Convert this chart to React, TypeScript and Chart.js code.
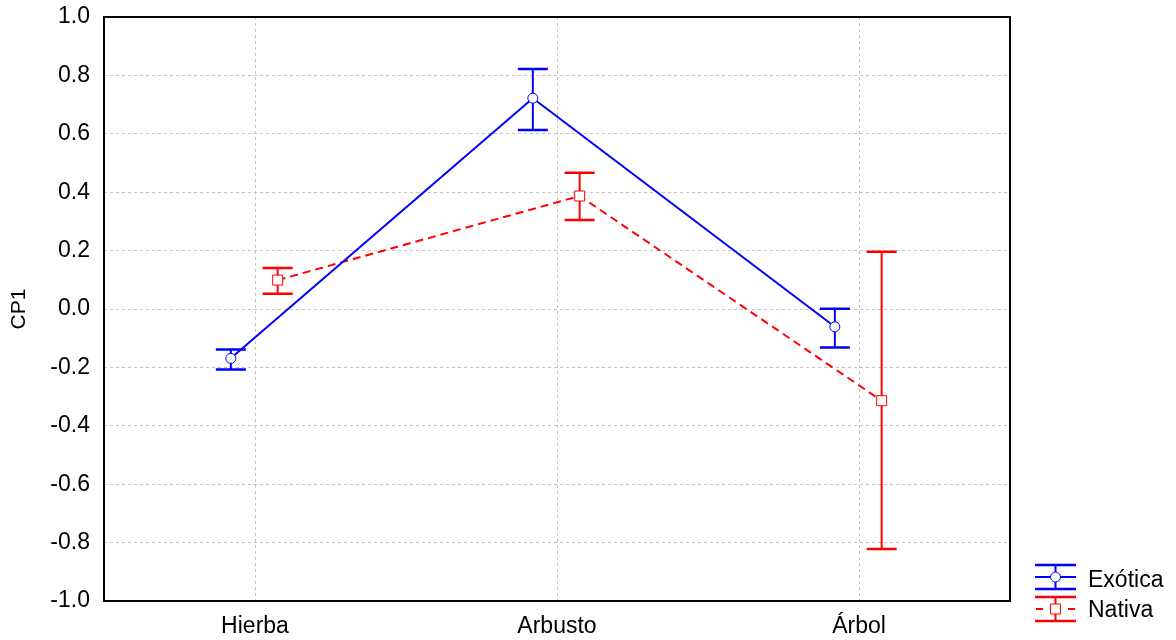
import React, { useEffect, useRef } from "react";
import { Chart, registerables } from "chart.js";

Chart.register(...registerables);

const categories = ["Hierba", "Arbusto", "Árbol"];
const seriesNames = ["Exótica", "Nativa"];
const exoticaMean = [-0.169, 0.722, -0.061];
const exoticaLow = [-0.207, 0.613, -0.132];
const exoticaHigh = [-0.139, 0.822, 0.001];
const nativaMean = [0.099, 0.387, -0.314];
const nativaLow = [0.052, 0.305, -0.822];
const nativaHigh = [0.14, 0.467, 0.196];
const yAxisTitle = "CP1";
const yMin = -1.0;
const yMax = 1.0;
const yStep = 0.2;

const FONT = '"Liberation Sans", Arial, Helvetica, sans-serif';
const BLUE = "#0000ff";
const RED = "#ff0000";
const DODGE_EX = -0.08;
const DODGE_NA = 0.075;

const framePlugin = {
  id: "frame",
  beforeDatasetsDraw(chart: any) {
    const { ctx, chartArea } = chart;
    ctx.save();
    ctx.strokeStyle = "#000";
    ctx.lineWidth = 2;
    ctx.strokeRect(chartArea.left, chartArea.top, chartArea.right - chartArea.left, chartArea.bottom - chartArea.top);
    ctx.restore();
  },
};

const errorBarPlugin = {
  id: "errorBars",
  beforeDatasetsDraw(chart: any) {
    const { ctx } = chart;
    const xs = chart.scales.x;
    const ys = chart.scales.y;
    chart.data.datasets.forEach((ds: any) => {
      ctx.save();
      ctx.strokeStyle = ds.borderColor;
      ctx.setLineDash([]);
      ds.data.forEach((p: any, i: number) => {
        const px = xs.getPixelForValue(p.x);
        const pTop = ys.getPixelForValue(ds.errHigh[i]);
        const pBot = ys.getPixelForValue(ds.errLow[i]);
        ctx.lineWidth = 2;
        ctx.beginPath();
        ctx.moveTo(px, pTop);
        ctx.lineTo(px, pBot);
        ctx.stroke();
        ctx.lineWidth = 2.5;
        ctx.beginPath();
        ctx.moveTo(px - 15, pTop);
        ctx.lineTo(px + 15, pTop);
        ctx.moveTo(px - 15, pBot);
        ctx.lineTo(px + 15, pBot);
        ctx.stroke();
      });
      ctx.restore();
    });
  },
};

const legendTitlePlugin = {
  id: "legendTitle",
  afterDraw(chart: any) {
    const { ctx, chartArea } = chart;
    ctx.save();
    ctx.fillStyle = "#000";
    ctx.font = `21px ${FONT}`;
    ctx.translate(19, (chartArea.top + chartArea.bottom) / 2);
    ctx.rotate(-Math.PI / 2);
    ctx.textAlign = "center";
    ctx.textBaseline = "middle";
    ctx.fillText(yAxisTitle, 0, 0);
    ctx.restore();

    const x0 = 1035;
    const x1 = 1076;
    const cx = 1055.5;
    const items = [
      { name: seriesNames[0], color: BLUE, mid: 577, dashed: false, marker: "circle", base: 587 },
      { name: seriesNames[1], color: RED, mid: 609, dashed: true, marker: "rect", base: 617 },
    ];
    items.forEach((it) => {
      ctx.save();
      ctx.strokeStyle = it.color;
      ctx.lineWidth = 2.5;
      ctx.beginPath();
      ctx.moveTo(x0, it.mid - 12);
      ctx.lineTo(x1, it.mid - 12);
      ctx.moveTo(x0, it.mid + 12);
      ctx.lineTo(x1, it.mid + 12);
      ctx.stroke();
      ctx.lineWidth = 2;
      ctx.beginPath();
      ctx.moveTo(cx, it.mid - 12);
      ctx.lineTo(cx, it.mid + 12);
      ctx.stroke();
      if (it.dashed) {
        ctx.beginPath();
        ctx.moveTo(x0 + 1, it.mid);
        ctx.lineTo(x0 + 8, it.mid);
        ctx.moveTo(x1 - 8, it.mid);
        ctx.lineTo(x1 - 1, it.mid);
        ctx.stroke();
      } else {
        ctx.beginPath();
        ctx.moveTo(x0, it.mid);
        ctx.lineTo(x1, it.mid);
        ctx.stroke();
      }
      ctx.fillStyle = "#fff";
      ctx.lineWidth = 1;
      ctx.beginPath();
      if (it.marker === "circle") {
        ctx.arc(cx, it.mid, 5, 0, Math.PI * 2);
      } else {
        ctx.rect(cx - 5, it.mid - 5, 10, 10);
      }
      ctx.fill();
      ctx.stroke();
      ctx.fillStyle = "#000";
      ctx.font = `23px ${FONT}`;
      ctx.textAlign = "left";
      ctx.textBaseline = "alphabetic";
      ctx.fillText(it.name, 1088, it.base);
      ctx.restore();
    });
  },
};

export default function App() {
  const canvasRef = useRef<HTMLCanvasElement | null>(null);

  useEffect(() => {
    const canvas = canvasRef.current;
    if (!canvas) return;
    const chart = new Chart(canvas, {
      type: "line",
      data: {
        datasets: [
          {
            label: seriesNames[0],
            data: categories.map((_, i) => ({ x: i + DODGE_EX, y: exoticaMean[i] })),
            errLow: exoticaLow,
            errHigh: exoticaHigh,
            borderColor: BLUE,
            borderWidth: 2,
            pointStyle: "circle",
            pointRadius: 5,
            pointHoverRadius: 5,
            pointBackgroundColor: "#fff",
            pointBorderColor: BLUE,
            pointBorderWidth: 1,
            tension: 0,
            fill: false,
          } as any,
          {
            label: seriesNames[1],
            data: categories.map((_, i) => ({ x: i + DODGE_NA, y: nativaMean[i] })),
            errLow: nativaLow,
            errHigh: nativaHigh,
            borderColor: RED,
            borderWidth: 2,
            borderDash: [8, 5],
            pointStyle: "rect",
            pointRadius: 7.07,
            pointHoverRadius: 7.07,
            pointBackgroundColor: "#fff",
            pointBorderColor: RED,
            pointBorderWidth: 1,
            tension: 0,
            fill: false,
          } as any,
        ],
      },
      options: {
        responsive: false,
        animation: false,
        events: [],
        layout: { padding: { top: 17, right: 166, left: 0, bottom: 0 } },
        plugins: {
          legend: { display: false },
          tooltip: { enabled: false },
        },
        scales: {
          x: {
            type: "linear",
            min: -0.5,
            max: 2.5,
            afterBuildTicks: (scale: any) => {
              scale.ticks = categories.map((_, i) => ({ value: i }));
            },
            afterFit: (scale: any) => {
              scale.height = 39;
              scale.paddingLeft = 0;
              scale.paddingRight = 0;
            },
            ticks: {
              autoSkip: false,
              maxRotation: 0,
              padding: 12,
              color: "#000",
              font: { family: FONT, size: 23 },
              callback: (v: any) => categories[Math.round(v)] ?? "",
            },
            grid: { color: "#c4c4c4", lineWidth: 1, drawTicks: false, borderDash: [3, 3] } as any,
            border: { display: false, dash: [3, 3] },
          },
          y: {
            type: "linear",
            min: yMin,
            max: yMax,
            afterFit: (scale: any) => {
              scale.width = 104;
              scale.paddingTop = 0;
              scale.paddingBottom = 0;
            },
            ticks: {
              stepSize: yStep,
              padding: 14,
              color: "#000",
              font: { family: FONT, size: 23 },
              callback: (v: any) => Number(v).toFixed(1),
            },
            grid: { color: "#c4c4c4", lineWidth: 1, drawTicks: false, borderDash: [3, 3] } as any,
            border: { display: false, dash: [3, 3] },
          },
        },
      },
      plugins: [framePlugin, errorBarPlugin, legendTitlePlugin],
    });
    return () => chart.destroy();
  }, []);

  return (
    <div style={{ position: "fixed", left: 0, top: 0, width: 1176, height: 640, background: "#fff" }}>
      <canvas ref={canvasRef} width={1176} height={640} />
    </div>
  );
}
